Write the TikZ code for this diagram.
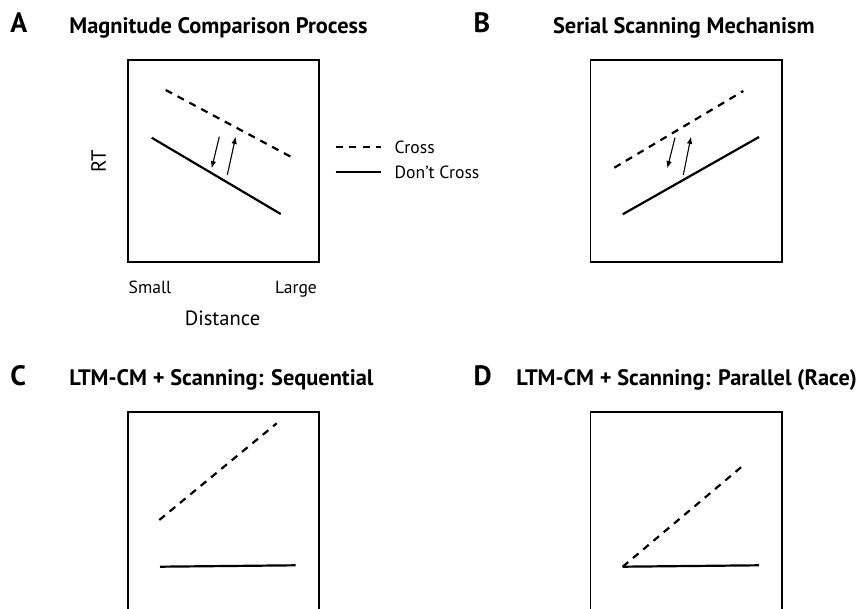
\documentclass[tikz,border=0pt]{standalone}
\usepackage{fontspec}
\setmainfont{PT Sans}
\usetikzlibrary{arrows.meta,positioning}

\tikzset{
  panel/.style={line width=0.8pt},
  cross/.style={line width=1.1pt, dash pattern=on 3.6pt off 3.1pt},
  nocross/.style={line width=1.1pt},
  shiftarrow/.style={-{Latex[length=3.6pt,width=2.8pt]}, line width=0.55pt},
  letter/.style={font=\fontsize{14}{16}\bfseries\selectfont, anchor=base west, inner sep=0pt},
  heading/.style={font=\fontsize{11.2}{13}\bfseries\selectfont, anchor=base west, inner sep=0pt},
  ticklabel/.style={font=\fontsize{8.8}{10}\selectfont, anchor=base west, inner sep=0pt},
  axislabel/.style={font=\fontsize{10.3}{12}\selectfont, inner sep=0pt},
}

\begin{document}
\begin{tikzpicture}[x=0.5pt,y=-0.5pt]
  \useasboundingbox (0,0) rectangle (856,609);

  % A: magnitude comparison
  \node[letter]  (letA)  at (10,32.7)  {A};
  \node[heading] (headA) at (69,33.3)  {Magnitude Comparison Process};
  \draw[panel] (128,60) rectangle (319,262);
  \coordinate (a1) at (165.7,90);   \coordinate (a2) at (295,159);
  \coordinate (a3) at (151.7,137.7); \coordinate (a4) at (280.7,214);
  \draw[cross]   (a1) -- (a2);
  \draw[nocross] (a3) -- (a4);
  \coordinate (ad1) at (219.3,136.7); \coordinate (ad2) at (211.7,168.3);
  \coordinate (au1) at (227.3,175);   \coordinate (au2) at (235.7,136.7);
  \draw[shiftarrow] (ad1) -- (ad2);
  \draw[shiftarrow] (au1) -- (au2);
  \node[axislabel, rotate=90] (rt) at (98.5,161) {RT};
  \node[ticklabel] (small) at (128.3,293.3) {Small};
  \node[ticklabel, anchor=base east] (large) at (317.3,293.3) {Large};
  \node[axislabel, anchor=base] (dist) at (222.5,325) {Distance};

  % legend
  \coordinate (k1) at (335.7,147.3); \coordinate (k2) at (381,147.3);
  \coordinate (k3) at (335.7,172.3); \coordinate (k4) at (381,172.3);
  \draw[cross]   (k1) -- (k2);
  \draw[nocross] (k3) -- (k4);
  \node[ticklabel] (keyA) at (394.3,153.3) {Cross};
  \node[ticklabel] (keyB) at (394.3,178.3) {Don't Cross};

  % B: serial scanning
  \node[letter]  (letB)  at (473.3,32.7) {B};
  \node[heading] (headB) at (552.7,33.3) {Serial Scanning Mechanism};
  \draw[panel] (590.3,60) rectangle (781.7,262);
  \coordinate (b1) at (614.3,167.7); \coordinate (b2) at (743.3,91);
  \coordinate (b3) at (622.7,214.3); \coordinate (b4) at (759,137);
  \draw[cross]   (b1) -- (b2);
  \draw[nocross] (b3) -- (b4);
  \coordinate (bd1) at (675,137.7);   \coordinate (bd2) at (667.3,168.3);
  \coordinate (bu1) at (683.3,175);   \coordinate (bu2) at (691,136.7);
  \draw[shiftarrow] (bd1) -- (bd2);
  \draw[shiftarrow] (bu1) -- (bu2);

  % C: sequential
  \node[letter]  (letC)  at (10,385)   {C};
  \node[heading] (headC) at (69,385)   {LTM-CM + Scanning: Sequential};
  \draw[panel] (128,609) |- (319,411.7) -- (319,609);
  \coordinate (c1) at (159.3,520); \coordinate (c2) at (276.7,423.3);
  \coordinate (c3) at (160,566.7); \coordinate (c4) at (295.7,565.3);
  \draw[cross]   (c1) -- (c2);
  \draw[nocross] (c3) -- (c4);

  % D: parallel race
  \node[letter]  (letD)  at (473.3,385) {D};
  \node[heading] (headD) at (516,385)   {LTM-CM + Scanning: Parallel (Race)};
  \draw[panel] (590.3,609) |- (781.7,411.7) -- (781.7,609);
  \coordinate (d1) at (622.7,566.7); \coordinate (d2) at (741.7,466.7);
  \coordinate (d3) at (759,565.3);
  \draw[cross]   (d1) -- (d2);
  \draw[nocross] (d1) -- (d3);
\end{tikzpicture}
\end{document}
